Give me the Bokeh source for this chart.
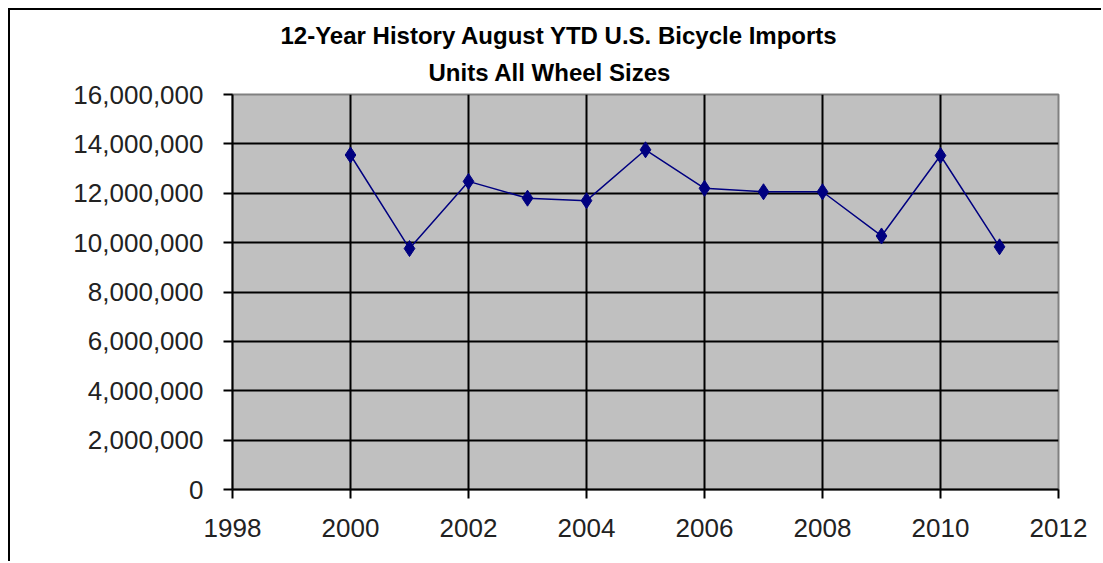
from bokeh.plotting import figure
from bokeh.models import Range1d, FixedTicker, NumeralTickFormatter, Title
from bokeh.embed import file_html
from bokeh.resources import INLINE

years = [2000, 2001, 2002, 2003, 2004, 2005, 2006, 2007, 2008, 2009, 2010, 2011]
units = [13550000, 9760000, 12480000, 11800000, 11700000, 13760000,
         12200000, 12060000, 12060000, 10270000, 13530000, 9830000]
x_ticks = [1998, 2000, 2002, 2004, 2006, 2008, 2010, 2012]
y_ticks = [0, 2000000, 4000000, 6000000, 8000000, 10000000, 12000000, 14000000, 16000000]
title_line1 = "12-Year History August YTD U.S. Bicycle Imports"
title_line2 = "Units All Wheel Sizes"

p = figure(width=1093, height=553, output_backend="svg", toolbar_location=None,
           x_range=Range1d(1998, 2012), y_range=Range1d(0, 16000000),
           min_border_left=222, min_border_right=45, min_border_top=84, min_border_bottom=74)

p.styles = {"margin-left": "8px", "margin-top": "8px",
            "border-left": "2px solid black", "border-top": "2px solid black"}

p.background_fill_color = "#C0C0C0"
p.border_fill_color = "white"
p.outline_line_color = "#808080"
p.outline_line_width = 2

tf = "Liberation Sans"
p.add_layout(Title(text=title_line2, align="left", text_font=tf, text_font_size="24px",
                   text_font_style="bold", text_color="black", offset=196, standoff=17), "above")
p.add_layout(Title(text=title_line1, align="left", text_font=tf, text_font_size="24px",
                   text_font_style="bold", text_color="black", offset=48, standoff=0), "above")

for ax in (p.xaxis[0], p.yaxis[0]):
    ax.axis_line_color = "black"
    ax.axis_line_width = 2
    ax.major_tick_line_color = "black"
    ax.major_tick_line_width = 2
    ax.major_tick_in = 0
    ax.major_tick_out = 9
    ax.minor_tick_line_color = None
    ax.major_label_text_font = "Liberation Sans"
    ax.major_label_text_font_size = "26px"
    ax.major_label_text_color = "#222222"

p.xaxis.ticker = FixedTicker(ticks=x_ticks)
p.yaxis.ticker = FixedTicker(ticks=y_ticks)
p.yaxis.formatter = NumeralTickFormatter(format="0,0")
p.xaxis.major_label_standoff = 20
p.yaxis.major_label_standoff = 20

p.xgrid.ticker = FixedTicker(ticks=x_ticks[1:-1])
p.ygrid.ticker = FixedTicker(ticks=y_ticks[1:-1])
p.xgrid.grid_line_color = "black"
p.ygrid.grid_line_color = "black"
p.xgrid.grid_line_width = 2
p.ygrid.grid_line_width = 2

p.line(years, units, line_color="#000080", line_width=1.5)
p.scatter(years, units, marker="diamond", size=16, fill_color="#000080", line_color="#000080")

open("out.html", "w").write(file_html(p, INLINE))
